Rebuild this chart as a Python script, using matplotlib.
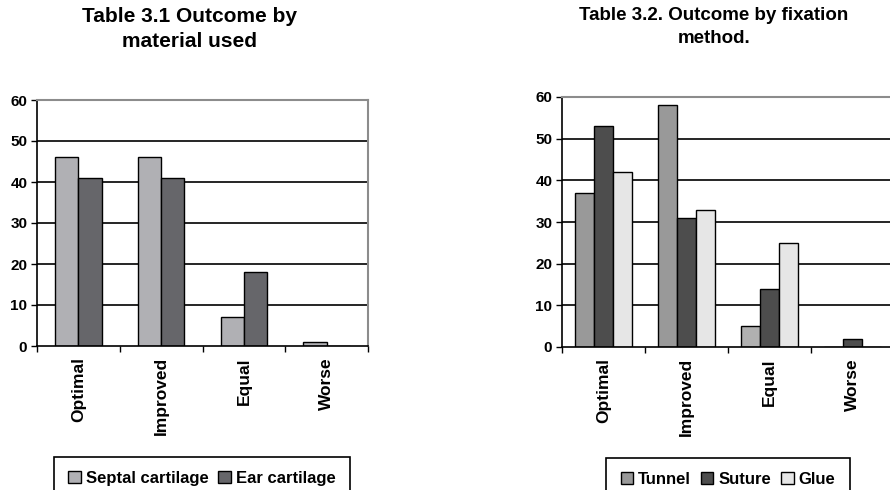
import numpy as np
import matplotlib
matplotlib.use('Agg')
import matplotlib.pyplot as plt
from matplotlib.patches import Patch

plt.rcParams['font.family'] = ['Liberation Sans', 'DejaVu Sans']
plt.rcParams['font.weight'] = 'bold'

categories = ['Optimal', 'Improved', 'Equal', 'Worse']

# Table 3.1
septal = [46, 46, 7, 1]
ear = [41, 41, 18, 0]

# Table 3.2
tunnel = [37, 58, 5, 0]
suture = [53, 31, 14, 2]
glue = [42, 33, 25, 0]

W, H = 890, 490
fig = plt.figure(figsize=(W / 100, H / 100), dpi=100)


def px_axes(left, top, right, bottom):
    return fig.add_axes([left / W, (H - bottom) / H, (right - left) / W, (bottom - top) / H])


def style_axes(ax, right_border=True):
    ax.set_ylim(0, 60)
    ax.set_xlim(0, 4)
    ax.set_yticks(range(0, 61, 10))
    ax.set_xticks([0, 1, 2, 3, 4])
    ax.set_xticklabels([])
    ax.set_xticks([0.5, 1.5, 2.5, 3.5], minor=True)
    ax.set_xticklabels(categories, minor=True, rotation=90, fontsize=12.5, fontweight='bold')
    ax.tick_params(axis='x', which='minor', length=0, pad=8)
    ax.tick_params(axis='x', which='major', length=4, width=1, direction='out')
    ax.tick_params(axis='y', length=4, width=1, direction='out', labelsize=11, pad=3)
    for lab in ax.get_yticklabels():
        lab.set_fontweight('bold')
    for y in range(10, 60, 10):
        ax.axhline(y, color='black', lw=1.2, zorder=1)
    ax.spines['left'].set_color('black')
    ax.spines['left'].set_linewidth(1.2)
    ax.spines['bottom'].set_color('black')
    ax.spines['bottom'].set_linewidth(1.2)
    ax.spines['top'].set_color('#8c8c8c')
    ax.spines['top'].set_linewidth(1.5)
    ax.spines['right'].set_color('#8c8c8c')
    ax.spines['right'].set_linewidth(1.5)
    ax.spines['right'].set_visible(right_border)


x = np.arange(len(categories)) + 0.5

# left chart
ax1 = px_axes(37, 100, 368, 346)
bw = 0.28
ax1.bar(x - bw / 2, septal, bw, color='#b0b0b4', edgecolor='black', lw=1, zorder=2)
ax1.bar(x + bw / 2, ear, bw, color='#66666a', edgecolor='black', lw=1, zorder=2)
style_axes(ax1)
fig.text(190 / W, 1 - 29 / H, 'Table 3.1 Outcome by\nmaterial used', ha='center', va='center',
         fontsize=15, fontweight='bold', linespacing=1.35)
leg1 = fig.legend(handles=[Patch(facecolor='#b0b0b4', edgecolor='black', label='Septal cartilage'),
                           Patch(facecolor='#66666a', edgecolor='black', label='Ear cartilage')],
                  loc='upper center', bbox_to_anchor=(202 / W, 1 - 457 / H), ncol=2,
                  fancybox=False, edgecolor='black', framealpha=1, handlelength=0.75, handleheight=0.75,
                  handletextpad=0.3, columnspacing=0.6, borderpad=0.85, borderaxespad=0,
                  prop={'weight': 'bold', 'size': 12})
leg1.get_frame().set_linewidth(1.2)

# right chart
ax2 = px_axes(562, 97, 894, 347)
bw2 = 0.23
tunnel_colors = ['#999999', '#999999', '#b0b0b0', '#999999']
ax2.bar(x - bw2, tunnel, bw2, color=tunnel_colors, edgecolor='black', lw=1, zorder=2)
ax2.bar(x, suture, bw2, color='#4d4d4d', edgecolor='black', lw=1, zorder=2)
ax2.bar(x + bw2, glue, bw2, color='#e6e6e6', edgecolor='black', lw=1, zorder=2)
style_axes(ax2, right_border=False)
fig.text(714 / W, 1 - 27 / H, 'Table 3.2. Outcome by fixation\nmethod.', ha='center', va='center',
         fontsize=13.5, fontweight='bold', linespacing=1.45)
leg2 = fig.legend(handles=[Patch(facecolor='#999999', edgecolor='black', label='Tunnel'),
                           Patch(facecolor='#4d4d4d', edgecolor='black', label='Suture'),
                           Patch(facecolor='#e6e6e6', edgecolor='black', label='Glue')],
                  loc='upper center', bbox_to_anchor=(728 / W, 1 - 458 / H), ncol=3,
                  fancybox=False, edgecolor='black', framealpha=1, handlelength=0.75, handleheight=0.75,
                  handletextpad=0.3, columnspacing=0.6, borderpad=0.85, borderaxespad=0,
                  prop={'weight': 'bold', 'size': 12})
leg2.get_frame().set_linewidth(1.2)

fig.savefig('out.png', dpi=100)
